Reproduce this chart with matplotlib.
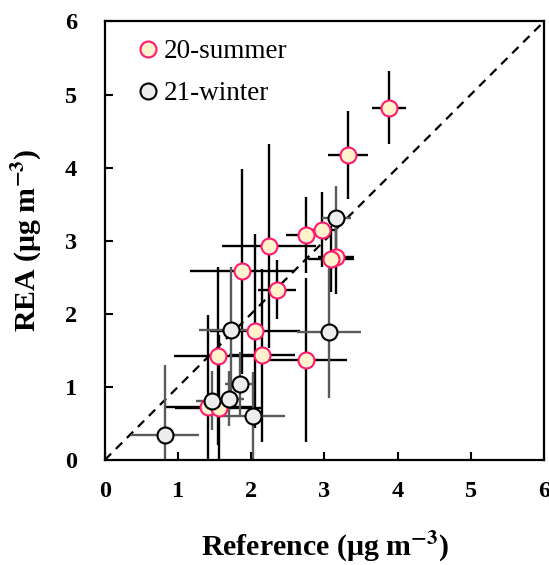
import matplotlib
matplotlib.use("Agg")
import matplotlib.pyplot as plt

# 20-summer: reference vs REA (ug m-3) with errors
summer_ref = [3.88, 3.32, 2.75, 2.96, 3.16, 3.09, 2.24, 1.88, 2.35, 2.05, 1.55, 2.15, 2.75, 1.41, 1.56]
summer_rea = [4.82, 4.17, 3.08, 3.15, 2.77, 2.75, 2.93, 2.58, 2.33, 1.76, 1.42, 1.43, 1.37, 0.73, 0.71]
summer_xerr = [0.23, 0.27, 0.27, 0.20, 0.25, 0.31, 0.64, 0.72, 0.26, 0.62, 0.61, 0.45, 0.56, 0.60, 0.60]
summer_yerr = [0.50, 0.60, 0.52, 0.51, 0.50, 0.45, 1.40, 1.40, 0.40, 1.33, 1.22, 1.18, 1.12, 1.25, 1.00]

# 21-winter
winter_ref = [3.16, 1.73, 3.06, 1.84, 1.70, 1.47, 2.02, 0.82]
winter_rea = [3.31, 1.78, 1.75, 1.04, 0.84, 0.81, 0.60, 0.34]
winter_xerr = [0.20, 0.45, 0.44, 0.20, 0.20, 0.22, 0.44, 0.46]
winter_yerr = [0.44, 0.86, 0.90, 0.43, 0.38, 0.40, 0.60, 0.96]

ticks = [0, 1, 2, 3, 4, 5, 6]

plt.rcParams['font.family'] = ['Liberation Serif', 'DejaVu Serif']
plt.rcParams['mathtext.fontset'] = 'stix'

fig = plt.figure(figsize=(5.49, 5.65), dpi=100)
ax = fig.add_axes([0.191, 0.186, 0.8, 0.776])

# 1:1 line
ax.plot([0, 6], [0, 6], color='black', lw=1.6, ls=(0, (4, 3)), zorder=1)

ax.errorbar(summer_ref, summer_rea, xerr=summer_xerr, yerr=summer_yerr,
            fmt='none', ecolor='black', elinewidth=1.7, capsize=0, zorder=2)
ax.errorbar(winter_ref, winter_rea, xerr=winter_xerr, yerr=winter_yerr,
            fmt='none', ecolor='#5a5a5a', elinewidth=1.7, capsize=0, zorder=2)

ax.plot(summer_ref, summer_rea, 'o', ms=11.5, mfc='#FFF2CC', mec='#FF1A6E',
        mew=1.5, label='20-summer', zorder=3)
ax.plot(winter_ref, winter_rea, 'o', ms=11.5, mfc='#EDEDED', mec='black',
        mew=1.5, label='21-winter', zorder=4)

ax.set_xlim(0, 6)
ax.set_ylim(0, 6)
ax.set_xticks(ticks)
ax.set_yticks(ticks)
ax.tick_params(direction='in', length=6, width=1.5, labelsize=17.5)
ax.tick_params(axis='x', pad=15)
ax.tick_params(axis='y', pad=20)
for lab in ax.get_xticklabels() + ax.get_yticklabels():
    lab.set_fontweight('bold')
for sp in ax.spines.values():
    sp.set_linewidth(1.6)

ax.set_xlabel(r'Reference (μg m$^{\mathbf{-3}}$)', fontsize=21.5, fontweight='bold', labelpad=20)
ax.set_ylabel(r'REA (μg m$^{\mathbf{-3}}$)', fontsize=21.5, fontweight='bold', labelpad=15)

ax.legend(loc='upper left', frameon=False, fontsize=19.5, handletextpad=0.0,
          labelspacing=0.63, borderaxespad=0.0, handlelength=1.2,
          bbox_to_anchor=(0.036, 0.984))

fig.savefig('out.png', dpi=100)
